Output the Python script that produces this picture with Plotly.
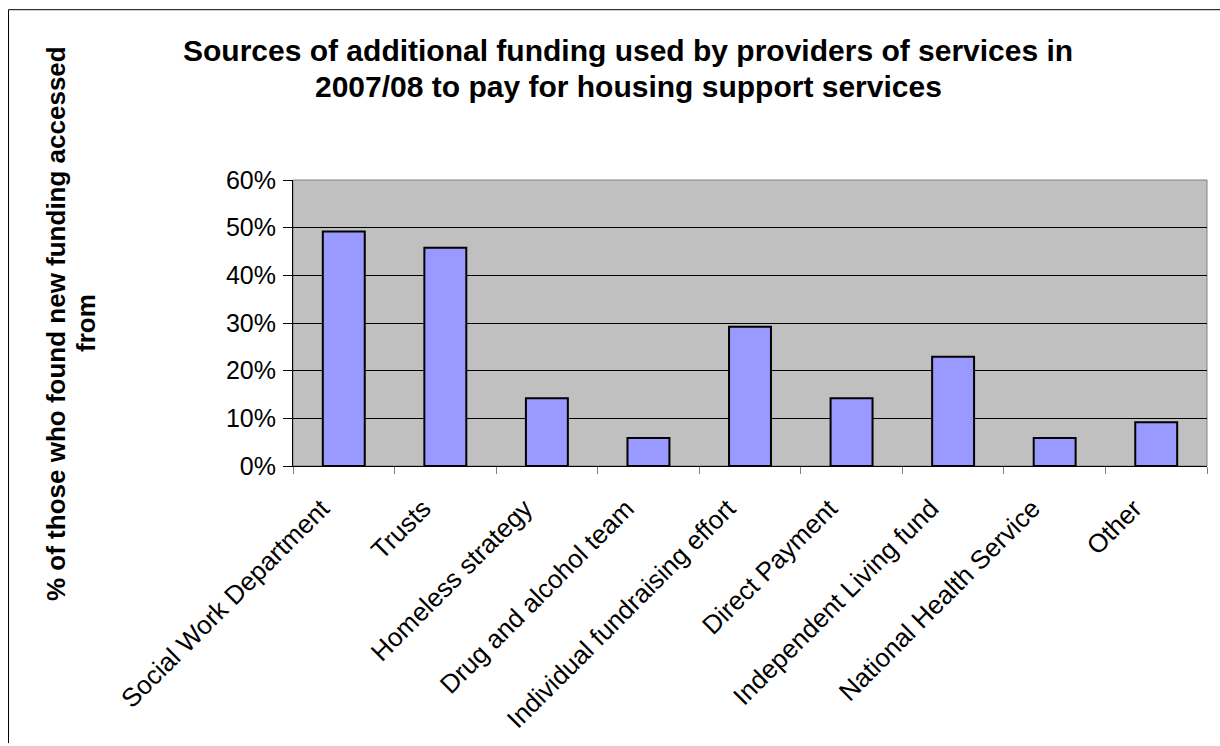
import plotly.graph_objects as go

categories = ["Social Work Department", "Trusts", "Homeless strategy", "Drug and alcohol team",
              "Individual fundraising effort", "Direct Payment", "Independent Living fund",
              "National Health Service", "Other"]
values = [49.2, 45.8, 14.2, 5.9, 29.2, 14.2, 22.9, 5.9, 9.2]
y_ticks = [0, 10, 20, 30, 40, 50, 60]
y_tick_labels = [f"{v}%" for v in y_ticks]

title_lines = ["Sources of additional funding used by providers of services in",
               "2007/08 to pay for housing support services"]
y_title_lines = ["% of those who found new funding accessed", "from"]

FONT = "Liberation Sans, Arial, sans-serif"
L, R, T, B = 293, 13, 180, 278
PW, PH = 1220 - L - R, 746 - T - B


def px(x):
    return (x - L) / PW


def py(y):
    return (746 - B - y) / PH


annotations = []
for line, yc in zip(title_lines, [50, 86]):
    annotations.append(dict(text=f"<b>{line}</b>", xref="paper", yref="paper", x=px(628), y=py(yc),
                            xanchor="center", yanchor="middle", showarrow=False,
                            font=dict(family=FONT, size=30, color="#000000")))
for line, xc in zip(y_title_lines, [56, 86]):
    annotations.append(dict(text=f"<b>{line}</b>", xref="paper", yref="paper", x=px(xc), y=py(324),
                            xanchor="center", yanchor="middle", textangle=-90, showarrow=False,
                            font=dict(family=FONT, size=26, color="#000000")))

fig = go.Figure()
fig.add_trace(go.Bar(
    x=categories, y=values,
    marker=dict(color="#9999FF", line=dict(color="#000000", width=2)),
    hoverinfo="skip",
))

fig.update_layout(
    width=1220, height=746,
    margin=dict(l=L, r=R, t=T, b=B),
    paper_bgcolor="#FFFFFF",
    plot_bgcolor="#C0C0C0",
    bargap=0.587,
    showlegend=False,
    font=dict(family=FONT, color="#000000"),
    annotations=annotations,
)

fig.update_yaxes(
    range=[0, 60], tickvals=y_ticks, ticktext=y_tick_labels,
    showgrid=True, gridcolor="#000000", gridwidth=1,
    showline=True, linecolor="#000000", linewidth=1,
    ticks="outside", ticklen=9, tickcolor="#000000", tickwidth=1,
    tickfont=dict(family=FONT, size=25, color="#000000"),
    zeroline=False, fixedrange=True, ticklabelstandoff=2,
)
fig.update_xaxes(
    type="category", tickangle=-45,
    showline=True, linecolor="#000000", linewidth=1,
    ticks="outside", tickson="boundaries", ticklen=7, tickcolor="#808080", tickwidth=1,
    tickfont=dict(family=FONT, size=26, color="#000000"),
    ticklabelshift=-22, ticklabelstandoff=16,
    showgrid=False, fixedrange=True,
)

# plot area border (top/right gray)
fig.add_shape(type="rect", xref="paper", yref="paper", x0=0, x1=1, y0=0, y1=1,
              line=dict(color="#808080", width=1), layer="below")
# chart outer border (left and top)
fig.add_shape(type="line", xref="paper", yref="paper",
              x0=px(8.5), x1=px(1221), y0=py(8.5), y1=py(8.5),
              line=dict(color="#000000", width=1))
fig.add_shape(type="line", xref="paper", yref="paper",
              x0=px(8.5), x1=px(8.5), y0=py(8.5), y1=py(747),
              line=dict(color="#000000", width=1))

fig.write_html("out.html")
